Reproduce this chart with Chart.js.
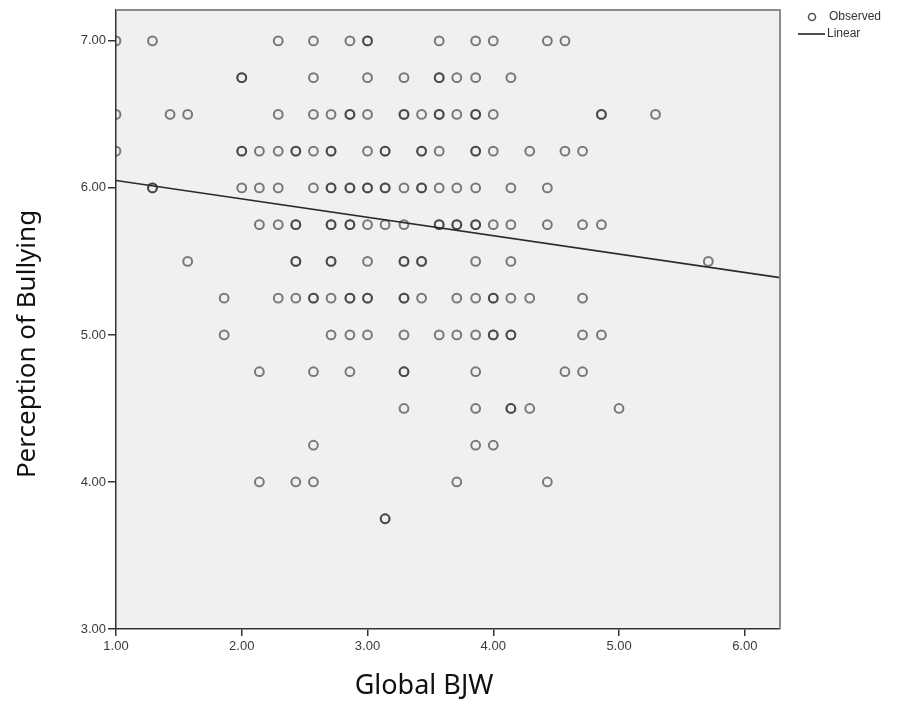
<!DOCTYPE html>
<html>
<head>
<meta charset="utf-8">
<script src="https://cdn.jsdelivr.net/npm/chart.js@4"></script>
<style>
  html, body { margin: 0; padding: 0; background: #fff; }
  #wrap { width: 908px; height: 709px; position: relative; }
</style>
</head>
<body>
<div id="wrap"><canvas id="chart" width="908" height="709"></canvas></div>
<script>
// observed points, one array of Global BJW values per Perception row
const row700 = [1.00, 1.29, 2.29, 2.57, 2.86, 3.00, 3.00, 3.57, 3.86, 4.00, 4.43, 4.57];
const row675 = [2.00, 2.00, 2.57, 3.00, 3.29, 3.57, 3.57, 3.71, 3.86, 4.14];
const row650 = [1.00, 1.43, 1.57, 2.29, 2.57, 2.71, 2.86, 2.86, 3.00, 3.29, 3.29, 3.43, 3.57, 3.57, 3.71, 3.86, 3.86, 4.00, 4.86, 4.86, 5.29];
const row625 = [1.00, 2.00, 2.00, 2.14, 2.29, 2.43, 2.43, 2.57, 2.71, 2.71, 3.00, 3.14, 3.14, 3.43, 3.43, 3.57, 3.86, 3.86, 4.00, 4.29, 4.57, 4.71];
const row600 = [1.29, 1.29, 2.00, 2.14, 2.29, 2.57, 2.71, 2.71, 2.86, 2.86, 3.00, 3.00, 3.14, 3.14, 3.29, 3.43, 3.43, 3.57, 3.71, 3.86, 4.14, 4.43];
const row575 = [2.14, 2.29, 2.43, 2.43, 2.71, 2.71, 2.86, 2.86, 3.00, 3.14, 3.29, 3.57, 3.57, 3.71, 3.71, 3.86, 3.86, 4.00, 4.14, 4.43, 4.71, 4.86];
const row550 = [1.57, 2.43, 2.43, 2.71, 2.71, 3.00, 3.29, 3.29, 3.43, 3.43, 3.86, 4.14, 5.71];
const row525 = [1.86, 2.29, 2.43, 2.57, 2.57, 2.71, 2.86, 2.86, 3.00, 3.00, 3.29, 3.29, 3.43, 3.71, 3.86, 4.00, 4.00, 4.14, 4.29, 4.71];
const row500 = [1.86, 2.71, 2.86, 3.00, 3.29, 3.57, 3.71, 3.86, 4.00, 4.00, 4.14, 4.14, 4.71, 4.86];
const row475 = [2.14, 2.57, 2.86, 3.29, 3.29, 3.86, 4.57, 4.71];
const row450 = [3.29, 3.86, 4.14, 4.14, 4.29, 5.00];
const row425 = [2.57, 3.86, 4.00];
const row400 = [2.14, 2.43, 2.57, 3.71, 4.43];
const row375 = [3.14, 3.14];

const rowLevels = [7.00, 6.75, 6.50, 6.25, 6.00, 5.75, 5.50, 5.25, 5.00, 4.75, 4.50, 4.25, 4.00, 3.75];
const rows = [row700, row675, row650, row625, row600, row575, row550, row525, row500, row475, row450, row425, row400, row375];

// linear fit line end points
const fitX = [1.00, 6.28];
const fitY = [6.05, 5.39];

const xTicks = [1, 2, 3, 4, 5, 6];
const yTicks = [3, 4, 5, 6, 7];

const observed = [];
rows.forEach((r, i) => r.forEach(x => observed.push({ x: x, y: rowLevels[i] })));
const fitLine = fitX.map((x, i) => ({ x: x, y: fitY[i] }));

const narrow = "'Liberation Sans Narrow', 'Liberation Sans', Arial, sans-serif";

// plot background, top/right frame, axis titles and legend
const decor = {
  id: 'decor',
  beforeDraw(chart) {
    const { ctx, chartArea: a } = chart;
    ctx.save();
    ctx.fillStyle = '#f0f0f0';
    ctx.fillRect(a.left, a.top, a.right - a.left, a.bottom - a.top);
    ctx.restore();
  },
  afterDraw(chart) {
    const { ctx, chartArea: a } = chart;
    ctx.save();
    ctx.strokeStyle = '#8c8c8c';
    ctx.lineWidth = 2;
    ctx.beginPath();
    ctx.moveTo(a.left, a.top);
    ctx.lineTo(a.right, a.top);
    ctx.lineTo(a.right, a.bottom);
    ctx.stroke();

    ctx.fillStyle = '#111';
    ctx.textAlign = 'center';
    ctx.textBaseline = 'middle';
    ctx.font = "27px 'Noto Sans', sans-serif";
    ctx.fillText('Global BJW', 424, 686);
    ctx.font = "26px 'Noto Sans', sans-serif";
    ctx.translate(28, 344);
    ctx.rotate(-Math.PI / 2);
    ctx.fillText('Perception of Bullying', 0, 0);
    ctx.restore();

    // legend
    ctx.save();
    ctx.strokeStyle = '#555';
    ctx.lineWidth = 1.6;
    ctx.beginPath();
    ctx.arc(812, 17, 3.5, 0, Math.PI * 2);
    ctx.stroke();
    ctx.strokeStyle = '#222';
    ctx.beginPath();
    ctx.moveTo(798, 34);
    ctx.lineTo(825, 34);
    ctx.stroke();
    ctx.fillStyle = '#333';
    ctx.font = '12px ' + narrow;
    ctx.textAlign = 'left';
    ctx.textBaseline = 'middle';
    ctx.fillText('Observed', 829, 17);
    ctx.fillText('Linear', 827, 34);
    ctx.restore();
  }
};

new Chart(document.getElementById('chart'), {
  type: 'scatter',
  data: {
    datasets: [
      {
        label: 'Observed',
        data: observed,
        pointRadius: 4.4,
        pointHoverRadius: 4.4,
        pointBorderWidth: 2,
        pointBackgroundColor: 'rgba(0,0,0,0)',
        pointBorderColor: 'rgba(40,40,40,0.6)',
        clip: 0
      },
      {
        type: 'line',
        label: 'Linear',
        data: fitLine,
        borderColor: '#2a2a2a',
        borderWidth: 1.6,
        pointRadius: 0,
        fill: false
      }
    ]
  },
  options: {
    responsive: false,
    animation: false,
    layout: { padding: { top: 10, right: 128, left: 0, bottom: 0 } },
    plugins: { legend: { display: false }, tooltip: { enabled: false } },
    scales: {
      x: {
        type: 'linear',
        min: 1,
        max: 6.28,
        afterBuildTicks: s => { s.ticks = xTicks.map(v => ({ value: v })); },
        afterFit: s => { s.height = 80; },
        grid: { drawOnChartArea: false, tickLength: 7, color: '#333', lineWidth: 1.5 },
        border: { color: '#333', width: 1.5 },
        ticks: {
          padding: 3,
          color: '#3a3a3a',
          font: { size: 13, family: narrow },
          maxRotation: 0,
          callback: v => v.toFixed(2)
        }
      },
      y: {
        type: 'linear',
        min: 3,
        max: 7.21,
        afterBuildTicks: s => { s.ticks = yTicks.map(v => ({ value: v })); },
        afterFit: s => { s.width = 116; },
        grid: { drawOnChartArea: false, tickLength: 8, color: '#333', lineWidth: 1.5 },
        border: { color: '#333', width: 1.5 },
        ticks: {
          padding: 2,
          color: '#3a3a3a',
          font: { size: 13, family: narrow },
          callback: v => v.toFixed(2)
        }
      }
    }
  },
  plugins: [decor]
});
</script>
</body>
</html>
